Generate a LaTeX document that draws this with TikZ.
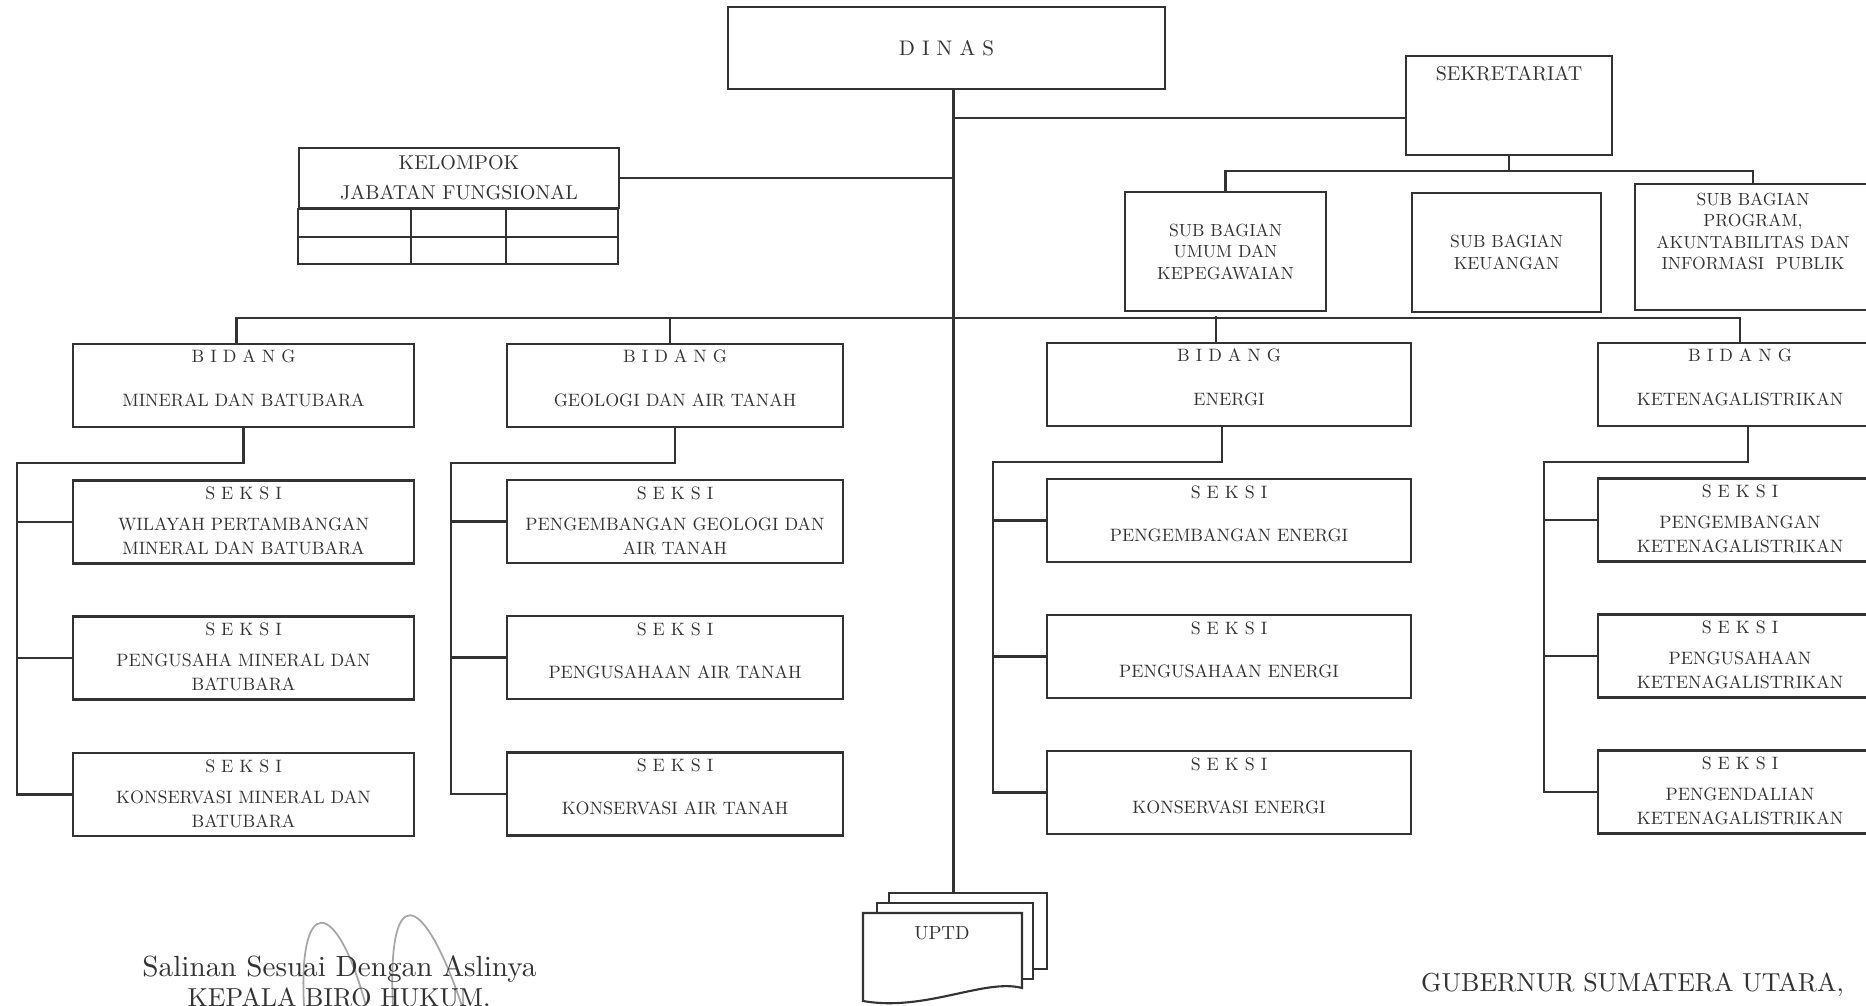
\documentclass[tikz,border=0pt]{standalone}
\usepackage{fontspec}
\setmainfont{lmroman10-regular.otf}
\usetikzlibrary{positioning}
\tikzset{
  ubox/.style={draw, minimum height=0.83cm, inner sep=0pt},
  c1/.style={minimum width=3.41cm},
  c2/.style={minimum width=3.36cm},
  c3/.style={minimum width=3.64cm},
  c4/.style={minimum width=2.84cm},
  hd/.style={anchor=center, yshift=-0.14cm, font=\fontsize{5.1}{6.8}\selectfont},
  bd/.style={anchor=center, yshift=0.28cm, align=center, font=\fontsize{5.1}{6.8}\selectfont},
  seksi/.style={ubox, label={[hd]north:S E K S I}},
  bidang/.style={ubox, label={[hd, yshift=0.01cm]north:B I D A N G}},
  subbag/.style={draw, align=center, inner sep=0pt, font=\fontsize{5}{6.1}\selectfont},
  topf/.style={font=\fontsize{5.7}{8.5}\selectfont},
}
\begin{document}
\begin{tikzpicture}[x=0.01cm, y=-0.01cm, line width=0.6pt, black!80]
\useasboundingbox (0,0) rectangle (1866,1006);
\clip (0,0) rectangle (1866,1006);

\node[draw, minimum width=4.37cm, minimum height=0.82cm, font=\fontsize{6}{7}\selectfont] (dinas) at (946.5,48) {D I N A S};
\node[draw, minimum width=2.06cm, minimum height=0.99cm, label={[anchor=center, yshift=-0.19cm, topf]north:SEKRETARIAT}] (sek) at (1509,105.5) {};
\node[draw, minimum width=3.2cm, minimum height=0.6cm, align=center, topf, inner sep=0pt] (kjf) at (459,178) {KELOMPOK\\JABATAN FUNGSIONAL};

\node[subbag, minimum width=2.01cm, minimum height=1.19cm] (su) at (1225.5,251.5) {SUB BAGIAN\\UMUM DAN\\KEPEGAWAIAN};
\node[subbag, minimum width=1.89cm, minimum height=1.19cm] (sk) at (1506.5,252.5) {SUB BAGIAN\\KEUANGAN};
\node[draw, minimum width=2.36cm, minimum height=1.26cm, label={[anchor=center, yshift=-0.485cm, align=center, font=\fontsize{5}{6}\selectfont]north:{SUB BAGIAN\\PROGRAM,\\AKUNTABILITAS DAN\\INFORMASI\ \ PUBLIK}}] (sp) at (1753,247) {};

\node[bidang, c1, label={[bd]south:MINERAL DAN BATUBARA}] (b1) at (243.5,385.5) {};
\node[seksi, c1, label={[bd]south:{WILAYAH PERTAMBANGAN\\MINERAL DAN BATUBARA}}] (s11) at (243.5,522) {};
\node[seksi, c1, label={[bd]south:{PENGUSAHA MINERAL DAN\\BATUBARA}}] (s12) at (243.5,658) {};
\node[seksi, c1, label={[bd]south:{KONSERVASI MINERAL DAN\\BATUBARA}}] (s13) at (243.5,794.5) {};

\node[bidang, c2, label={[bd]south:GEOLOGI DAN AIR TANAH}] (b2) at (675,385.5) {};
\node[seksi, c2, label={[bd]south:{PENGEMBANGAN GEOLOGI DAN\\AIR TANAH}}] (s21) at (675,521.5) {};
\node[seksi, c2, label={[bd]south:PENGUSAHAAN AIR TANAH}] (s22) at (675,657.5) {};
\node[seksi, c2, label={[bd]south:KONSERVASI AIR TANAH}] (s23) at (675,794) {};

\node[bidang, c3, label={[bd]south:ENERGI}] (b3) at (1229,384.5) {};
\node[seksi, c3, label={[bd]south:PENGEMBANGAN ENERGI}] (s31) at (1229,520.5) {};
\node[seksi, c3, label={[bd]south:PENGUSAHAAN ENERGI}] (s32) at (1229,656.5) {};
\node[seksi, c3, label={[bd]south:KONSERVASI ENERGI}] (s33) at (1229,792.5) {};

\node[bidang, c4, label={[bd]south:KETENAGALISTRIKAN}] (b4) at (1740,384.5) {};
\node[seksi, c4, label={[bd]south:{PENGEMBANGAN\\KETENAGALISTRIKAN}}] (s41) at (1740,520) {};
\node[seksi, c4, label={[bd]south:{PENGUSAHAAN\\KETENAGALISTRIKAN}}] (s42) at (1740,656) {};
\node[seksi, c4, label={[bd]south:{PENGENDALIAN\\KETENAGALISTRIKAN}}] (s43) at (1740,792) {};

\node[draw, fill=white, minimum width=1.58cm, minimum height=0.76cm] (uptdc) at (968,931) {};
\node[draw, fill=white, minimum width=1.56cm, minimum height=0.76cm] (uptdb) at (955,941) {};
\draw[fill=white] (863,913) -- (1022,913) -- (1022,988) .. controls (985,978) and (925,1012) .. (863,1001) -- cycle;
\node[font=\fontsize{5.4}{6}\selectfont] (uptd) at (942,933) {UPTD};

\coordinate (spine) at (953.5,89);
\coordinate (jsek) at (953.5,118);
\coordinate (bus) at (953.5,318);
\coordinate (jsub) at (1509,171);
\coordinate (r1) at (17,463);
\coordinate (r2) at (451,463);
\coordinate (r3) at (993,462);
\coordinate (r4) at (1544,462);

\draw (spine) -- (spine |- uptdc.north);
\draw (jsek) -- (jsek -| sek.west);
\draw (kjf.east) -- (kjf.east -| spine);
\draw (sek.south) -- (jsub);
\draw (su.north) |- (jsub) -| (sp.north);
\draw ([xshift=-0.07cm]b1.north) |- (bus) -| (b4.north);
\draw ([xshift=-0.05cm]b2.north) -- ++(0,-26);
\draw ([xshift=-0.13cm]b3.north) -- ++(0,-26);

\draw (kjf.south west) rectangle ++(320,55);
\draw ([yshift=-0.28cm]kjf.south west) -- ++(320,0);
\draw ([xshift=1.13cm]kjf.south west) -- ++(0,55);
\draw ([xshift=2.08cm]kjf.south west) -- ++(0,55);

\draw (b1.south) |- (r1) |- (s13.west);
\draw (r1 |- s11.west) -- (s11.west);
\draw (r1 |- s12.west) -- (s12.west);
\draw (b2.south) |- (r2) |- (s23.west);
\draw (r2 |- s21.west) -- (s21.west);
\draw (r2 |- s22.west) -- (s22.west);
\draw ([xshift=-0.07cm]b3.south) |- (r3) |- (s33.west);
\draw (r3 |- s31.west) -- (s31.west);
\draw (r3 |- s32.west) -- (s32.west);
\draw ([xshift=0.08cm]b4.south) |- (r4) |- (s43.west);
\draw (r4 |- s41.west) -- (s41.west);
\draw (r4 |- s42.west) -- (s42.west);

\draw[gray!70, line width=0.5pt] (304,1006) .. controls (298,895) and (336,895) .. (366,1006);
\draw[gray!70, line width=0.5pt] (393,1006) .. controls (387,885) and (421,885) .. (462,1006);
\node[font=\fontsize{8.3}{9}\selectfont] (salinan) at (339.5,969) {Salinan Sesuai Dengan Aslinya};
\node[font=\fontsize{7.4}{8}\selectfont] (kepala) at (339,999.5) {KEPALA BIRO HUKUM,};
\node[font=\fontsize{7.4}{8}\selectfont] (gub) at (1632.5,984.5) {GUBERNUR SUMATERA UTARA,};
\end{tikzpicture}
\end{document}
